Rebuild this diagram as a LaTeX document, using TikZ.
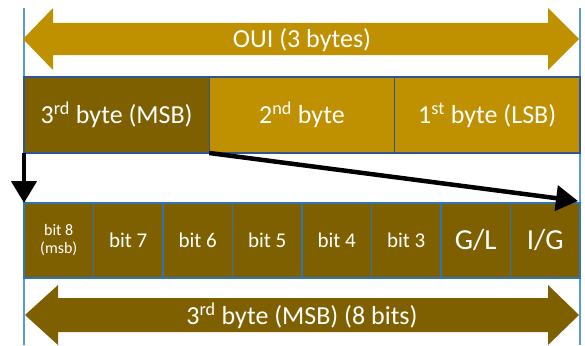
\documentclass[tikz,border=0pt]{standalone}
\usepackage{fontspec}
\setmainfont{Carlito}
\usepackage{xcolor}
\usetikzlibrary{arrows.meta}

\definecolor{golddark}{HTML}{7F6000}
\definecolor{goldmid}{HTML}{BF9000}
\definecolor{rowblue}{HTML}{2F5597}
\definecolor{bitblue}{HTML}{2E75B6}
\definecolor{guideblue}{HTML}{5B9BD5}

\tikzset{
  bytebox/.style={draw=rowblue, line width=1.2pt, minimum width=185.3pt, minimum height=76pt,
    anchor=north west, inner sep=0pt, outer sep=0pt, text=white, font=\fontsize{26}{28}\selectfont},
  bitbox/.style={draw=bitblue, line width=1.5pt, fill=golddark, minimum width=69.5pt,
    minimum height=75pt, anchor=north west, inner sep=0pt, outer sep=0pt, text=white,
    font=\fontsize{21}{23}\selectfont},
  jump/.style={line width=4.5pt, -{Triangle[width=25pt,length=22pt]}}
}

\begin{document}
\begin{tikzpicture}[x=1pt, y=-1pt]
    \useasboundingbox (0,0) rectangle (585,345);
    \clip (0,0) rectangle (585,345);

    % Guide lines
    \draw[guideblue, line width=1.2pt] (24,8) -- (24,345);
    \draw[guideblue, line width=1.2pt] (580,8) -- (580,345);

    % OUI arrow
    \fill[goldmid] (23,39) -- (53,8) -- (53,23) -- (548,23) -- (548,8) -- (579,39)
        -- (548,70) -- (548,55) -- (53,55) -- (53,70) -- cycle;
    \node[text=white, font=\fontsize{26}{28}\selectfont] (oui) at (302,40) {OUI (3 bytes)};

    % Bytes
    \node[bytebox, fill=golddark] (b3) at (24,77) {3\textsuperscript{rd} byte (MSB)};
    \node[bytebox, fill=goldmid] (b2) at (b3.north east) {2\textsuperscript{nd} byte};
    \node[bytebox, fill=goldmid] (b1) at (b2.north east) {1\textsuperscript{st} byte (LSB)};

    % Bits of the 3rd byte
    \node[bitbox] (bit8) at (24,203) {};
    \node[align=center, text=white, font=\fontsize{16}{18}\selectfont] at (bit8) {bit 8\\(msb)};
    \node[bitbox] (bit7) at (bit8.north east) {bit 7};
    \node[bitbox] (bit6) at (bit7.north east) {bit 6};
    \node[bitbox] (bit5) at (bit6.north east) {bit 5};
    \node[bitbox] (bit4) at (bit5.north east) {bit 4};
    \node[bitbox] (bit3) at (bit4.north east) {bit 3};
    \node[bitbox, font=\fontsize{29}{31}\selectfont] (gl) at (bit3.north east) {G/L};
    \node[bitbox, font=\fontsize{29}{31}\selectfont] (ig) at (gl.north east) {I/G};

    % Expansion arrows
    \draw[jump] (b3.south west) -- (bit8.north west);
    \draw[jump] (b3.south east) -- ([xshift=-2pt,yshift=2pt]ig.north east);

    % 8 bits arrow
    \fill[golddark] (25,315) -- (58,285) -- (58,298) -- (548,298) -- (548,285) -- (579,315)
        -- (548,345) -- (548,332) -- (58,332) -- (58,345) -- cycle;
    \node[text=white, font=\fontsize{26}{28}\selectfont] (msb) at (302,316) {3\textsuperscript{rd} byte (MSB) (8 bits)};
\end{tikzpicture}
\end{document}
